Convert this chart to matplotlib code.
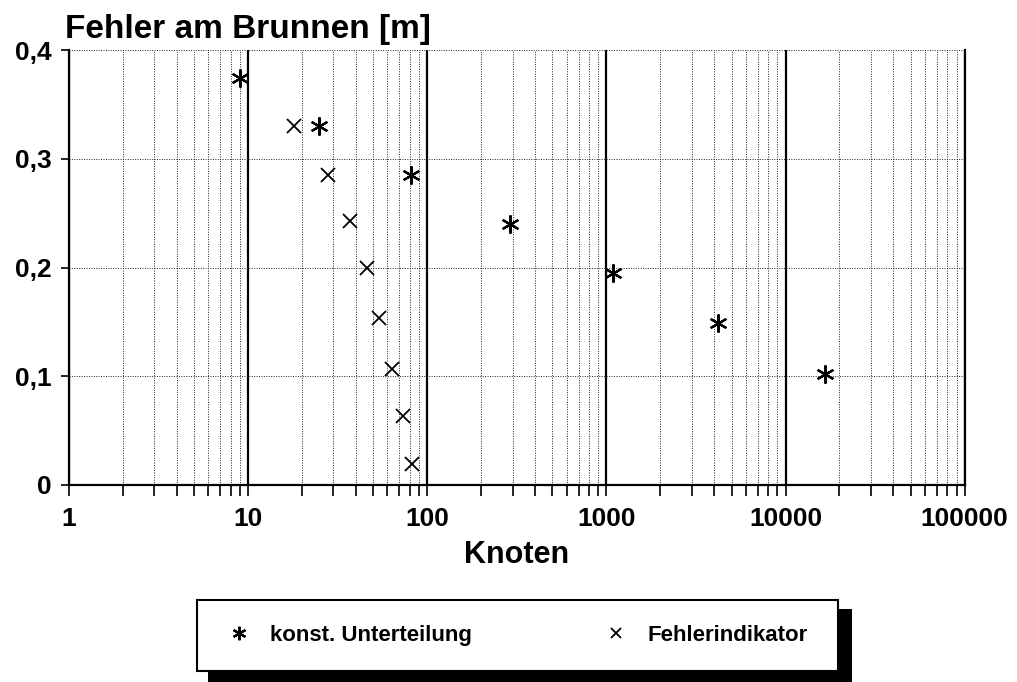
import matplotlib
matplotlib.use("Agg")
import matplotlib.pyplot as plt
from matplotlib.patches import Rectangle
from matplotlib.ticker import LogLocator, FuncFormatter, NullFormatter, MultipleLocator

# Fehler am Brunnen ueber der Knotenanzahl
konst_knoten = [9, 25, 81, 289, 1089, 4225, 16641]
konst_fehler = [0.374, 0.330, 0.285, 0.240, 0.195, 0.149, 0.102]

indikator_knoten = [18, 28, 37, 46, 54, 64, 73, 82]
indikator_fehler = [0.330, 0.285, 0.243, 0.200, 0.154, 0.107, 0.063, 0.019]

legend_labels = ["konst. Unterteilung", "Fehlerindikator"]

plt.rcParams['font.family'] = ['Liberation Sans', 'DejaVu Sans']
plt.rcParams['font.weight'] = 'bold'

W, H = 1017, 682
fig = plt.figure(figsize=(W / 100, H / 100), dpi=100)
ax = fig.add_axes([68.7 / W, 1 - 485 / H, 896 / W, 435 / H])

ax.set_xscale('log')
ax.set_xlim(1, 1e5)
ax.set_ylim(0, 0.4)

ax.xaxis.set_major_locator(LogLocator(base=10, numticks=10))
ax.xaxis.set_minor_locator(LogLocator(base=10, subs=range(2, 10), numticks=100))
ax.xaxis.set_major_formatter(FuncFormatter(lambda v, p: f"{v:.0f}"))
ax.xaxis.set_minor_formatter(NullFormatter())
ax.yaxis.set_major_locator(MultipleLocator(0.1))
ax.yaxis.set_major_formatter(FuncFormatter(
    lambda v, p: "0" if abs(v) < 1e-9 else f"{v:.1f}".replace(".", ",")))

# dotted grid, solid decade lines
ax.set_axisbelow(True)
ax.grid(which='minor', axis='x', ls=(0, (1, 1.5)), color='#222222', lw=0.7)
ax.grid(which='major', axis='x', ls='-', color='k', lw=1.6)
ax.grid(which='major', axis='y', ls=(0, (1, 1.5)), color='#222222', lw=0.7)

ax.spines['top'].set_visible(False)
for s in ['left', 'bottom', 'right']:
    ax.spines[s].set_linewidth(1.6)

ax.tick_params(axis='x', which='both', direction='out', length=8, width=1.2,
               labelsize=19, pad=8)
ax.tick_params(axis='y', which='major', direction='out', length=6, width=1.2,
               labelsize=19, pad=6)

star, = ax.plot(konst_knoten, konst_fehler, ls='none', marker=(6, 2, 0),
                ms=13, mew=1.6, color='k', clip_on=False)
cross, = ax.plot(indikator_knoten, indikator_fehler, ls='none', marker='x',
                 ms=10, mew=1.3, color='k', clip_on=False)

ax.set_xlabel("Knoten", fontsize=22, fontweight='bold', labelpad=6)
fig.text(65 / W, 1 - 38 / H, "Fehler am Brunnen [m]", fontsize=24,
         fontweight='bold', va='baseline', ha='left')

# legend box with heavy drop shadow
bx0, bx1, by0, by1 = 197, 838, 600, 671
fig.patches.append(Rectangle((208 / W, 1 - 684 / H), (852 - 208) / W, (684 - 609) / H,
                             transform=fig.transFigure, facecolor='k', edgecolor='none'))
fig.patches.append(Rectangle((bx0 / W, 1 - by1 / H), (bx1 - bx0) / W, (by1 - by0) / H,
                             transform=fig.transFigure, facecolor='white',
                             edgecolor='k', lw=1.5))
fig.legend([star, cross], legend_labels, loc='center',
           bbox_to_anchor=((bx0 + bx1) / 2 / W, 1 - (by0 + by1) / 2 / H),
           ncol=2, frameon=False, prop={'weight': 'bold', 'size': 16},
           markerscale=0.75, handlelength=1.0, handletextpad=0.9, columnspacing=6)

fig.savefig("out.png", dpi=100)
